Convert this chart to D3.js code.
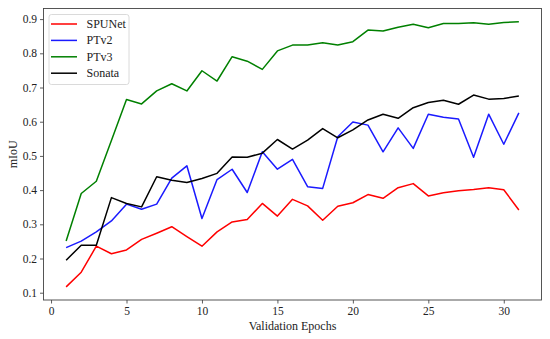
<!DOCTYPE html>
<html>
<head>
<meta charset="utf-8">
<script src="https://d3js.org/d3.v7.min.js"></script>
<style>
  body { margin: 0; background: #fff; }
  svg { display: block; }
  svg text { font-family: "Liberation Serif", "Times New Roman", serif; }
</style>
</head>
<body>
<div id="grafico"></div>
<script>
// datos
var epochs = d3.range(1, 32);
var spunet = [0.117, 0.160, 0.236, 0.214, 0.225, 0.256, 0.274, 0.293, 0.264, 0.236,
  0.278, 0.307, 0.314, 0.361, 0.324, 0.373, 0.354, 0.312, 0.353, 0.363,
  0.387, 0.376, 0.407, 0.419, 0.383, 0.392, 0.398, 0.402, 0.407, 0.401, 0.342];
var ptv2 = [0.232, 0.251, 0.278, 0.310, 0.359, 0.344, 0.359, 0.435, 0.471, 0.317,
  0.431, 0.461, 0.393, 0.512, 0.461, 0.490, 0.410, 0.405, 0.556, 0.599,
  0.590, 0.512, 0.582, 0.522, 0.622, 0.613, 0.608, 0.496, 0.622, 0.534, 0.626];
var ptv3 = [0.251, 0.390, 0.426, 0.545, 0.665, 0.652, 0.690, 0.711, 0.690, 0.749,
  0.719, 0.790, 0.777, 0.753, 0.807, 0.824, 0.824, 0.831, 0.824, 0.834,
  0.868, 0.865, 0.876, 0.885, 0.875, 0.887, 0.887, 0.889, 0.885, 0.890, 0.892];
var sonata = [0.195, 0.239, 0.239, 0.378, 0.361, 0.351, 0.439, 0.429, 0.422, 0.434,
  0.449, 0.497, 0.496, 0.508, 0.548, 0.520, 0.546, 0.580, 0.553, 0.576,
  0.605, 0.622, 0.610, 0.641, 0.656, 0.663, 0.651, 0.678, 0.666, 0.668, 0.675];

var seriesNames = ["SPUNet", "PTv2", "PTv3", "Sonata"];
var seriesColors = ["#ff0000", "#1a1aff", "#008000", "#000000"];
var seriesValues = [spunet, ptv2, ptv3, sonata];

var xTicks = [0, 5, 10, 15, 20, 25, 30];
var yTicks = [0.1, 0.2, 0.3, 0.4, 0.5, 0.6, 0.7, 0.8, 0.9];

var width = 550, height = 339;
var margin = { left: 43.5, right: 8.5, top: 8.5, bottom: 39 };
var serif = "'Liberation Serif', 'Times New Roman', serif";

var svg = d3.select("#grafico")
  .append("svg")
  .attr("width", width)
  .attr("height", height);

var x = d3.scaleLinear().domain([-0.5, 32.5]).range([margin.left, width - margin.right]);
var y = d3.scaleLinear().domain([0.0787, 0.931]).range([height - margin.bottom, margin.top]);

// Ejes
var xAxis = svg.append("g")
  .attr("transform", "translate(0," + (height - margin.bottom) + ")")
  .call(d3.axisBottom(x).tickValues(xTicks).tickSize(3.5).tickPadding(3).tickFormat(d3.format("d")));

var yAxis = svg.append("g")
  .attr("transform", "translate(" + margin.left + ",0)")
  .call(d3.axisLeft(y).tickValues(yTicks).tickSize(3.5).tickPadding(3).tickFormat(d3.format(".1f")));

[xAxis, yAxis].forEach(function(a) {
  a.attr("font-family", serif).attr("font-size", 11.5);
  a.select(".domain").remove();
  a.selectAll("line").attr("stroke", "#333").attr("stroke-width", 0.8);
  a.selectAll("text").attr("fill", "#222").attr("font-family", serif);
});

// Líneas
var line = d3.line()
  .x(function(d, i) { return x(epochs[i]); })
  .y(function(d) { return y(d); });

seriesValues.forEach(function(vals, k) {
  svg.append("path")
    .datum(vals)
    .attr("fill", "none")
    .attr("stroke", seriesColors[k])
    .attr("stroke-width", 1.5)
    .attr("stroke-linejoin", "round")
    .attr("d", line);
});

// Marco
svg.append("rect")
  .attr("x", margin.left)
  .attr("y", margin.top)
  .attr("width", width - margin.left - margin.right)
  .attr("height", height - margin.top - margin.bottom)
  .attr("fill", "none")
  .attr("stroke", "#444")
  .attr("stroke-width", 0.9);

// Títulos de ejes
svg.append("text")
  .attr("x", (margin.left + width - margin.right) / 2)
  .attr("y", 330)
  .attr("text-anchor", "middle")
  .attr("fill", "#222")
  .attr("font-family", serif)
  .attr("font-size", 12)
  .text("Validation Epochs");

svg.append("text")
  .attr("transform", "translate(17," + ((margin.top + height - margin.bottom) / 2) + ") rotate(-90)")
  .attr("text-anchor", "middle")
  .attr("fill", "#222")
  .attr("font-family", serif)
  .attr("font-size", 12)
  .text("mIoU");

// Leyenda
var legend = svg.append("g");
legend.append("rect")
  .attr("x", 49).attr("y", 14.5)
  .attr("width", 80).attr("height", 70)
  .attr("rx", 2.5)
  .attr("fill", "#fff").attr("fill-opacity", 0.8)
  .attr("stroke", "#d0d0d0").attr("stroke-width", 0.8);

seriesNames.forEach(function(name, k) {
  var ly = 24 + k * 16.4;
  legend.append("line")
    .attr("x1", 51).attr("x2", 77)
    .attr("y1", ly).attr("y2", ly)
    .attr("stroke", seriesColors[k]).attr("stroke-width", 1.5);
  legend.append("text")
    .attr("x", 86.5).attr("y", ly + 4)
    .attr("fill", "#222")
    .attr("font-family", serif)
    .attr("font-size", 12)
    .text(name);
});
</script>
</body>
</html>
